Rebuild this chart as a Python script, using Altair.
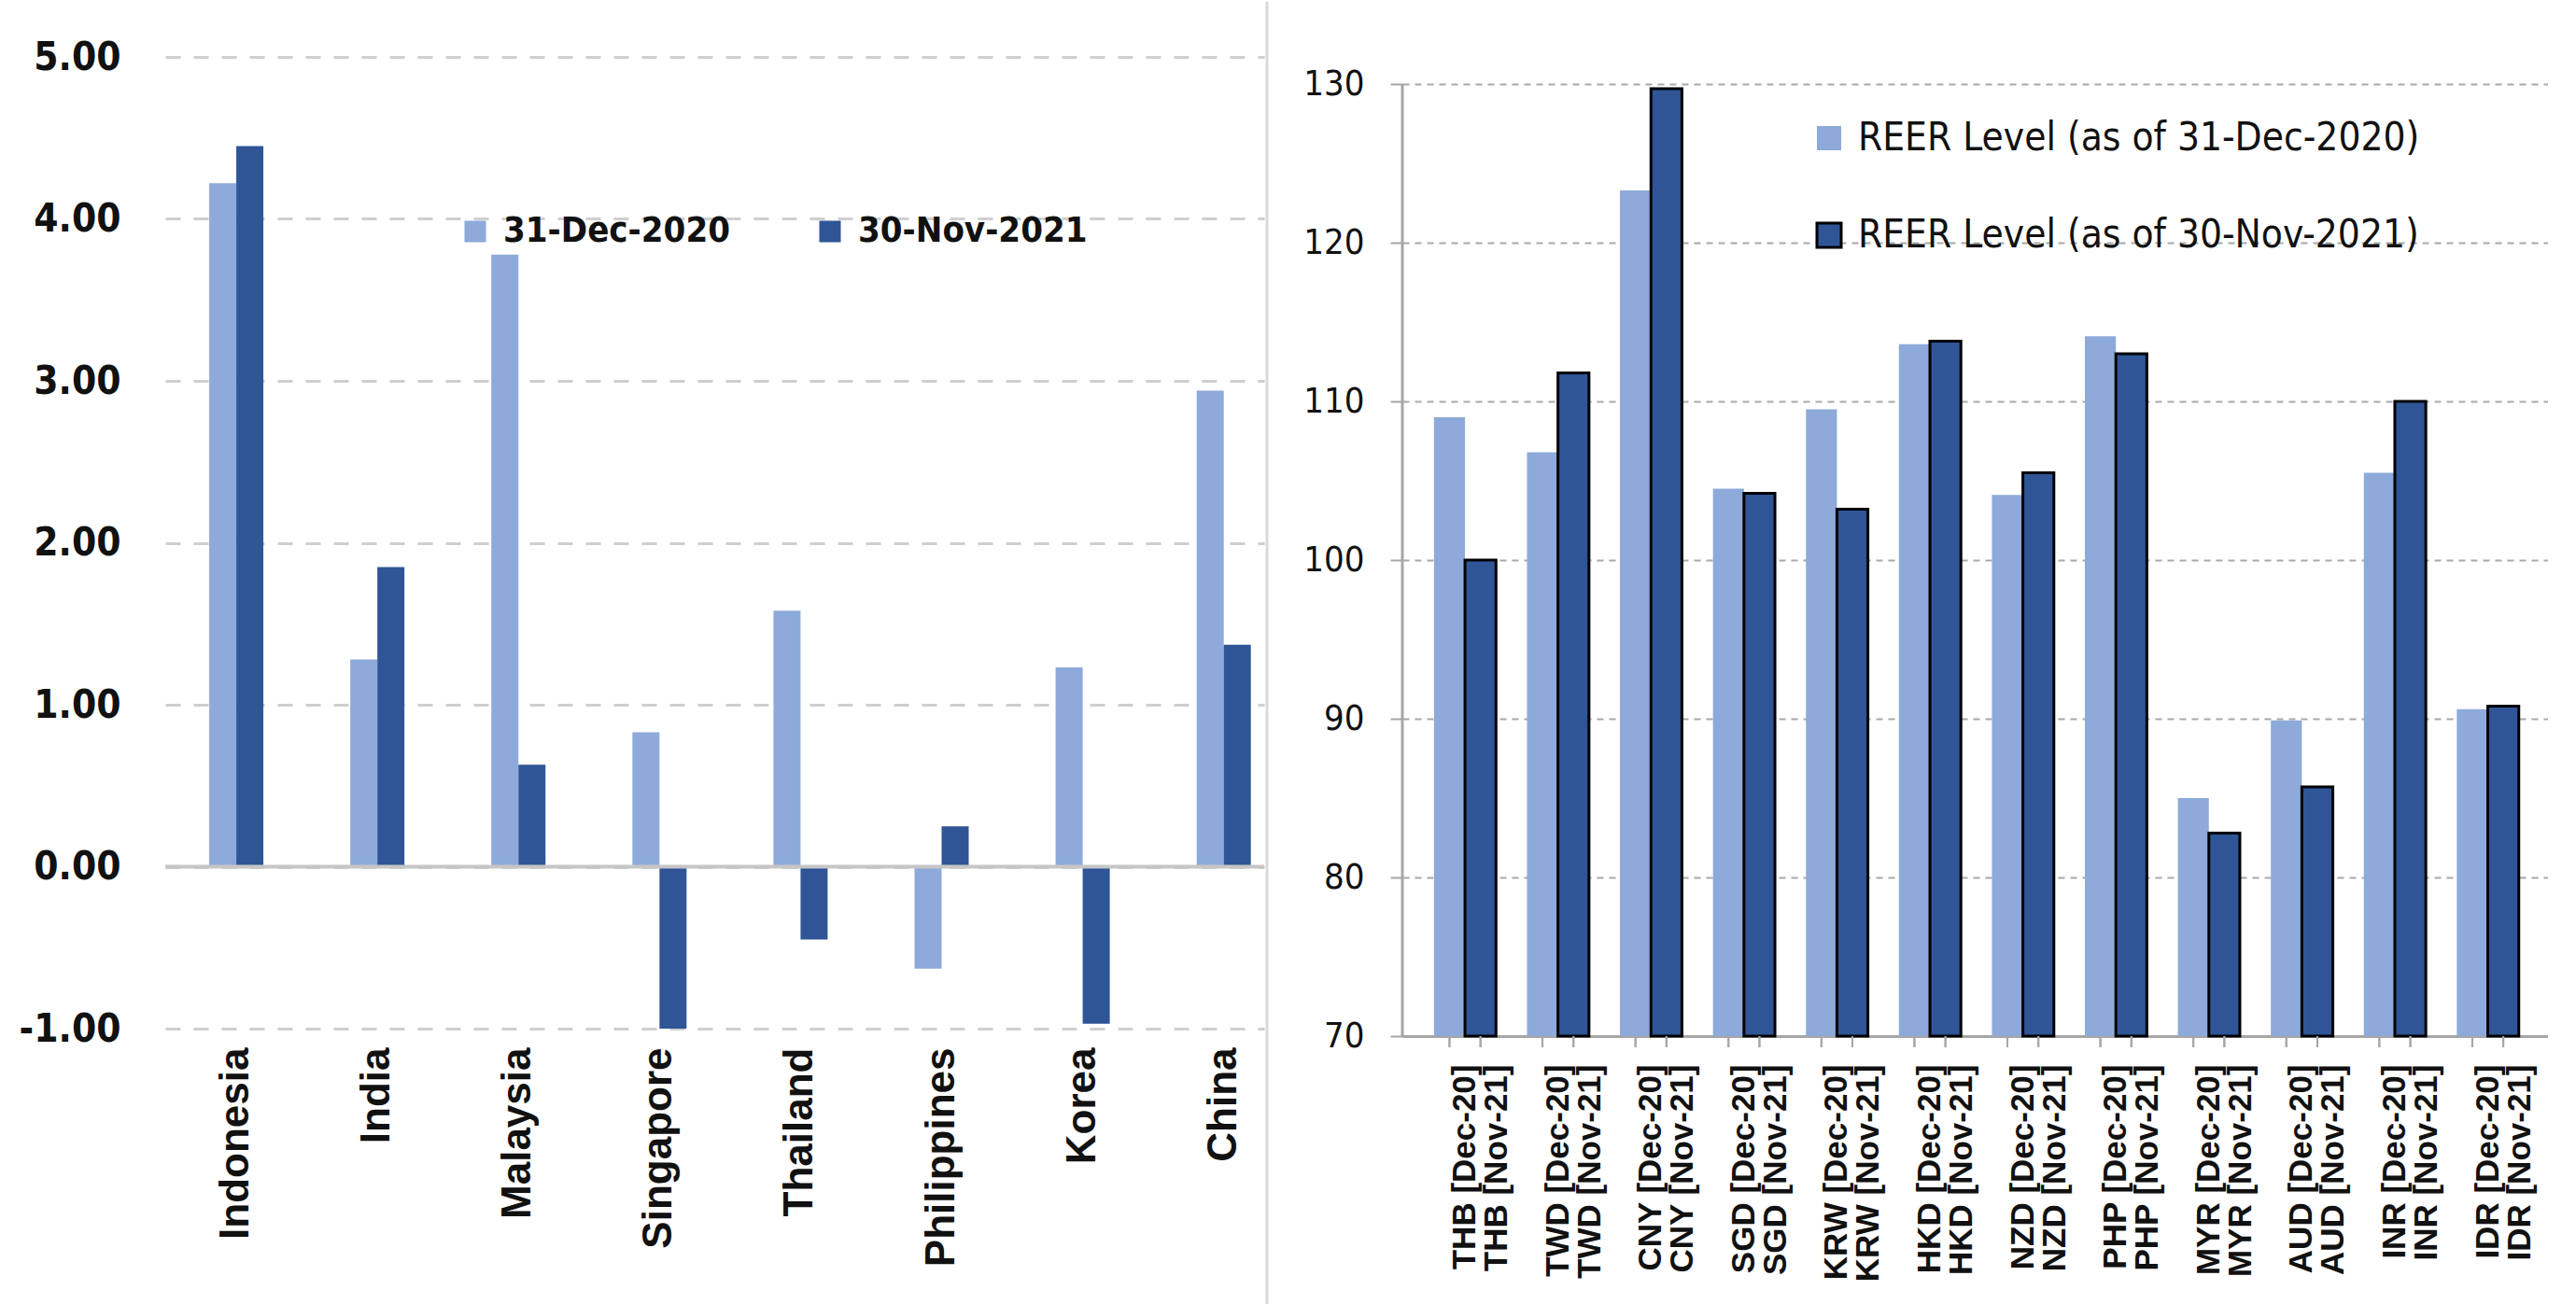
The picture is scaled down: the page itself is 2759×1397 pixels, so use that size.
import altair as alt
import pandas as pd

# ---- Left panel: change by country (two dates) ----
countries = ["Indonesia", "India", "Malaysia", "Singapore", "Thailand",
             "Philippines", "Korea", "China"]
chg_dec_2020 = [4.22, 1.28, 3.78, 0.83, 1.58, -0.63, 1.23, 2.94]
chg_nov_2021 = [4.45, 1.85, 0.63, -1.00, -0.45, 0.25, -0.97, 1.37]
left_series = ["31-Dec-2020", "30-Nov-2021"]
left_ticks = [-1, 0, 1, 2, 3, 4, 5]

# ---- Right panel: REER levels by currency ----
currencies = ["THB", "TWD", "CNY", "SGD", "KRW", "HKD", "NZD", "PHP",
              "MYR", "AUD", "INR", "IDR"]
reer_dec_2020 = [109.0, 106.8, 123.3, 104.5, 109.5, 113.6, 104.1, 114.1,
                 85.0, 89.9, 105.5, 90.6]
reer_nov_2021 = [100.0, 111.8, 129.7, 104.2, 103.2, 113.8, 105.5, 113.0,
                 82.8, 85.7, 110.0, 90.8]
right_series = ["REER Level (as of 31-Dec-2020)", "REER Level (as of 30-Nov-2021)"]
right_ticks = [70, 80, 90, 100, 110, 120, 130]

LIGHT = "#8eaadb"
DARK = "#2f5597"
COND = "DejaVu Sans Condensed, Liberation Sans Narrow, Roboto Condensed, Roboto"
SANS = "Liberation Sans, Arial, DejaVu Sans"
INK = "#111111"

left_df = pd.DataFrame({
    "country": countries * 2,
    "series": [left_series[0]] * len(countries) + [left_series[1]] * len(countries),
    "value": chg_dec_2020 + chg_nov_2021,
})
right_df = pd.DataFrame({
    "currency": currencies * 2,
    "series": [right_series[0]] * len(currencies) + [right_series[1]] * len(currencies),
    "value": reer_dec_2020 + reer_nov_2021,
})
one_row = pd.DataFrame({"k": [0]})

# plot-area sizes (both views share the same top edge)
TOP = 59
LW, LH = 1177, 1041
RW, RH = 1227, 1049
GAP = 148

# ---------------- left chart ----------------
lx = alt.X("country:N", sort=countries, title=None,
           scale=alt.Scale(paddingInner=0.616, paddingOuter=0.203, align=0.767),
           axis=alt.Axis(labelAngle=270, labelFont=SANS, labelFontWeight="bold",
                         labelFontSize=44, labelColor=INK, labelPadding=20,
                         ticks=False, domain=False, labelLimit=1000))
ly = alt.Y("value:Q", title=None,
           scale=alt.Scale(domain=[-1, 5], nice=False, zero=False),
           axis=alt.Axis(values=left_ticks,
                         labelExpr="replace(format(datum.value, '.2f'), '\u2212', '-')",
                         labelFont=COND, labelFontWeight="bold", labelFontSize=42,
                         labelColor=INK, labelPadding=48, ticks=False, tickSize=0,
                         domain=False, grid=True, gridColor="#cfcfcf",
                         gridDash=[16, 14], gridWidth=3))
left_bars = alt.Chart(left_df).mark_bar().encode(
    x=lx, y=ly,
    xOffset=alt.XOffset("series:N", sort=left_series,
                        scale=alt.Scale(domain=left_series, paddingInner=0, paddingOuter=0)),
    color=alt.Color("series:N", sort=left_series,
                    scale=alt.Scale(domain=left_series, range=[LIGHT, DARK]),
                    legend=alt.Legend(title=None, orient="none", legendX=313, legendY=168,
                                      direction="horizontal", symbolType="square",
                                      symbolSize=530, symbolStrokeWidth=0,
                                      labelFont=COND, labelFontWeight="bold",
                                      labelFontSize=38, labelColor=INK,
                                      labelOffset=11, columnPadding=88,
                                      labelLimit=1000, padding=0)),
)
zero_line = alt.Chart(one_row).mark_rule(color="#c6c6c6", strokeWidth=4).encode(
    y=alt.datum(0), x=alt.value(0), x2=alt.value(LW))

left = alt.layer(left_bars, zero_line).properties(width=LW, height=LH)

# ---------------- right chart ----------------
PO_R = 0.327
step_r = RW / (len(currencies) - 1 / 3 + 2 * PO_R)
half_bar = step_r * (2 / 3) / 4

rx = alt.X("currency:N", sort=currencies, title=None,
           scale=alt.Scale(paddingInner=1 / 3, paddingOuter=PO_R, align=0.52),
           axis=alt.Axis(labelAngle=270,
                         labelExpr="[datum.value + ' [Dec-20]', datum.value + ' [Nov-21]']",
                         labelFont=SANS, labelFontWeight="bold", labelFontSize=35,
                         labelLineHeight=34, labelColor=INK, labelPadding=30,
                         ticks=False, domain=True, domainColor="#a6a6a6",
                         domainWidth=3, labelLimit=1000))
ry = alt.Y("value:Q", title=None,
           scale=alt.Scale(domain=[70, 130 + (RH - 1020) / 17.0], nice=False, zero=False),
           axis=alt.Axis(values=right_ticks, format="d", labelFont=COND,
                         labelFontSize=38, labelColor=INK, labelPadding=28,
                         ticks=True, tickSize=13, tickColor="#a6a6a6", tickWidth=2,
                         domain=False, grid=True, gridColor="#a8a8a8",
                         gridDash=[7, 6], gridWidth=2))
r_offset = alt.XOffset("series:N", sort=right_series,
                       scale=alt.Scale(domain=right_series, paddingInner=0, paddingOuter=0))
right_legend = alt.Legend(title=None, orient="none", legendX=436, legendY=66,
                          direction="vertical", symbolType="square", symbolSize=676,
                          symbolStrokeWidth=3, labelFont=COND, labelFontSize=42,
                          labelColor=INK, labelOffset=10, rowPadding=62,
                          labelLimit=1000, padding=0)
right_bars = alt.Chart(right_df).mark_bar(strokeWidth=3).encode(
    x=rx, y=ry, y2=alt.datum(70), xOffset=r_offset,
    color=alt.Color("series:N", sort=right_series,
                    scale=alt.Scale(domain=right_series, range=[LIGHT, DARK]),
                    legend=right_legend),
    stroke=alt.Stroke("series:N", sort=right_series,
                      scale=alt.Scale(domain=right_series,
                                      range=["rgba(0,0,0,0)", "#000000"]),
                      legend=right_legend),
)
tick_base = alt.Chart(right_df).encode(
    x=rx, xOffset=r_offset, y=alt.value(RH), y2=alt.value(RH + 12))
tick_left = tick_base.mark_rule(color="#a6a6a6", strokeWidth=2, xOffset=-half_bar)
tick_right = tick_base.mark_rule(color="#a6a6a6", strokeWidth=2, xOffset=half_bar)
y_axis_line = alt.Chart(one_row).mark_rule(color="#a6a6a6", strokeWidth=3).encode(
    x=alt.value(0), y=alt.datum(70), y2=alt.datum(130))
# thin divider between the two panels, running the full height of the figure
separator = alt.Chart(one_row).mark_rule(color="#d9d9d9", strokeWidth=3).encode(
    x=alt.value(-(GAP - 3)), y=alt.value(-TOP), y2=alt.value(1397 - TOP))

right = alt.layer(separator, right_bars, tick_left, tick_right, y_axis_line).properties(
    width=RW, height=RH)

chart = alt.hconcat(left, right, spacing=GAP, bounds="flush").resolve_scale(
    color="independent", stroke="independent", x="independent", y="independent",
    xOffset="independent",
).configure_view(stroke=None).properties(
    padding={"left": 20, "top": 0, "right": 0, "bottom": 0},
    background="white",
)

chart.save("out.html", embed_options={"renderer": "svg", "actions": False})
